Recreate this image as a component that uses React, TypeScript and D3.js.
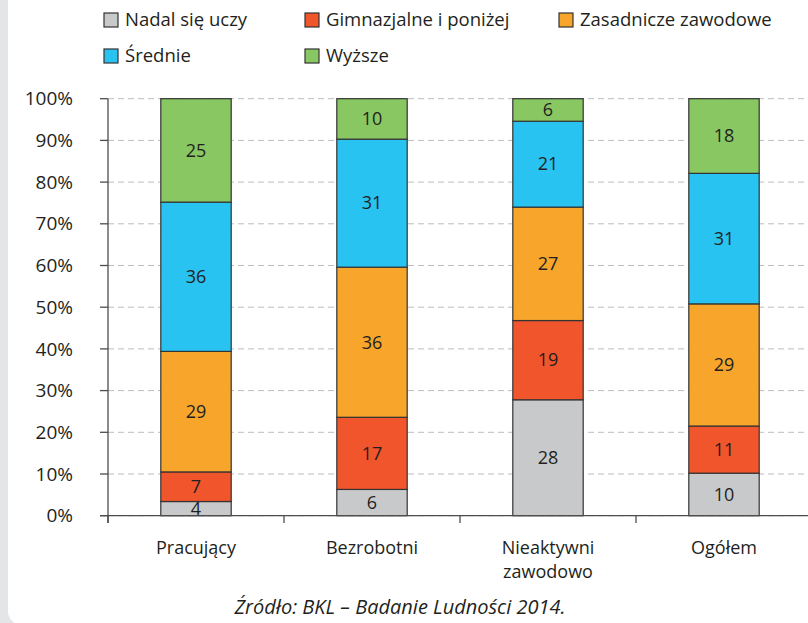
import React from "react";
import * as d3 from "d3";

const categories = ["Pracujący", "Bezrobotni", "Nieaktywni zawodowo", "Ogółem"];
const seriesNames = ["Nadal się uczy", "Gimnazjalne i poniżej", "Zasadnicze zawodowe", "Średnie", "Wyższe"];
const seriesColors = ["#c8c9cb", "#f0552c", "#f8a62b", "#28c3f1", "#89c763"];
const nadalSieUczy = [3.4, 6.3, 27.8, 10.2];
const gimnazjalne = [7.1, 17.3, 19.0, 11.3];
const zasadnicze = [28.9, 36.0, 27.2, 29.3];
const srednie = [35.8, 30.7, 20.6, 31.3];
const wyzsze = [24.8, 9.7, 5.4, 17.9];
const valueLabels = [
  [4, 6, 28, 10],
  [7, 17, 19, 11],
  [29, 36, 27, 29],
  [36, 31, 21, 31],
  [25, 10, 6, 18],
];
const yTicks = [0, 10, 20, 30, 40, 50, 60, 70, 80, 90, 100];
const sourceText = "Źródło: BKL – Badanie Ludności 2014.";

const W = 808;
const H = 623;
const FONT = "'Open Sans', sans-serif";
const TEXT = "#231f20";

export default function App() {
  const seriesArrays = [nadalSieUczy, gimnazjalne, zasadnicze, srednie, wyzsze];
  const rows = categories.map((c, i) => {
    const r: any = { cat: c };
    seriesNames.forEach((s, j) => (r[s] = seriesArrays[j][i]));
    return r;
  });
  const stacked = d3.stack<any>().keys(seriesNames)(rows);

  const x = d3.scaleBand<string>().domain(categories).range([108, 812]).padding(0);
  const y = d3.scaleLinear().domain([0, 100]).range([515.7, 98.7]);
  const barW = x.bandwidth() * 0.4;

  const legendItems = [
    { name: seriesNames[0], x: 104, y: 20 },
    { name: seriesNames[1], x: 305, y: 20 },
    { name: seriesNames[2], x: 559, y: 20 },
    { name: seriesNames[3], x: 104, y: 56 },
    { name: seriesNames[4], x: 305, y: 56 },
  ];

  const xTicks = [108, ...categories.map((c) => (x(c) as number) + x.bandwidth())];

  return (
    <svg
      width={W}
      height={H}
      style={{ position: "absolute", left: 0, top: 0, background: "#e4e5e6" }}
      fontFamily={FONT}
    >
      <rect x={8} y={-20} width={W + 20} height={H + 22} rx={14} fill="#ffffff" />

      {/* gridlines */}
      {yTicks.map((t) => (
        <line
          key={"g" + t}
          x1={108}
          x2={W}
          y1={y(t)}
          y2={y(t)}
          stroke="#bdbdbd"
          strokeWidth={1}
          strokeDasharray="6,4"
        />
      ))}

      {/* bars */}
      {stacked.map((layer, si) =>
        layer.map((d, ci) => (
          <rect
            key={si + "-" + ci}
            x={(x(categories[ci]) as number) + (x.bandwidth() - barW) / 2}
            y={y(d[1])}
            width={barW}
            height={y(d[0]) - y(d[1])}
            fill={seriesColors[si]}
            stroke="#333333"
            strokeWidth={1.2}
          />
        ))
      )}

      {/* value labels */}
      {stacked.map((layer, si) =>
        layer.map((d, ci) => (
          <text
            key={"l" + si + "-" + ci}
            x={(x(categories[ci]) as number) + x.bandwidth() / 2}
            y={(y(d[0]) + y(d[1])) / 2}
            dy="0.35em"
            textAnchor="middle"
            fontSize={18}
            fill={TEXT}
          >
            {valueLabels[si][ci]}
          </text>
        ))
      )}

      {/* y axis */}
      <line x1={108} x2={108} y1={y(100)} y2={523} stroke="#4d4d4d" strokeWidth={1.3} />
      {yTicks.map((t) => (
        <g key={"yt" + t}>
          <line x1={100} x2={108} y1={y(t)} y2={y(t)} stroke="#4d4d4d" strokeWidth={1.3} />
          <text x={73} y={y(t)} dy="0.35em" textAnchor="end" fontSize={19} fill={TEXT}>
            {t + "%"}
          </text>
        </g>
      ))}

      {/* x axis */}
      <line x1={100} x2={W} y1={y(0)} y2={y(0)} stroke="#4d4d4d" strokeWidth={1.3} />
      {xTicks.map((tx, i) => (
        <line key={"xt" + i} x1={tx} x2={tx} y1={y(0)} y2={523} stroke="#4d4d4d" strokeWidth={1.3} />
      ))}
      {categories.map((c) => {
        const parts = c === "Nieaktywni zawodowo" ? ["Nieaktywni", "zawodowo"] : [c];
        const cx = (x(c) as number) + x.bandwidth() / 2;
        return parts.map((p, i) => (
          <text
            key={"c" + c + i}
            x={cx}
            y={548 + i * 24}
            dy="0.35em"
            textAnchor="middle"
            fontSize={18}
            fill={TEXT}
          >
            {p}
          </text>
        ));
      })}

      {/* legend */}
      {legendItems.map((it, i) => (
        <g key={"lg" + i}>
          <rect x={it.x} y={it.y - 7} width={14} height={14} fill={seriesColors[i]} stroke="#333333" strokeWidth={1.2} />
          <text x={it.x + 21} y={it.y} dy="0.35em" fontSize={18.5} fill={TEXT}>
            {it.name}
          </text>
        </g>
      ))}

      {/* source */}
      <text x={400} y={607} dy="0.35em" textAnchor="middle" fontSize={20} fontStyle="italic" fill={TEXT}>
        {sourceText}
      </text>
    </svg>
  );
}
